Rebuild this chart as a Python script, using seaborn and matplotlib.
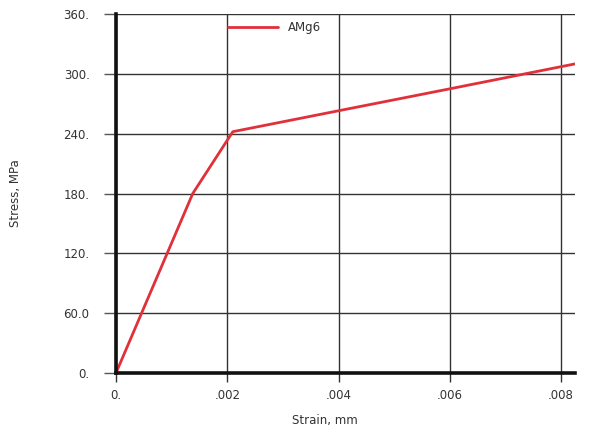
import pandas as pd
import matplotlib.pyplot as plt
import seaborn as sns

# Stress-strain curve for AMg6
strain = [0.0, 0.00138, 0.0021, 0.004, 0.006, 0.00825]
stress = [0.0, 180.0, 242.0, 263.0, 285.0, 310.0]
x_ticks = [0.0, 0.002, 0.004, 0.006, 0.008]
x_tick_labels = ["0.", ".002", ".004", ".006", ".008"]
y_ticks = [0, 60, 120, 180, 240, 300, 360]
y_tick_labels = ["0.", "60.0", "120.", "180.", "240.", "300.", "360."]

df = pd.DataFrame({"Strain": strain, "Stress": stress})

sns.set_style("white")
plt.rcParams['font.family'] = ['DejaVu Sans']

fig = plt.figure(figsize=(6.05, 4.29), dpi=100)
ax = fig.add_axes([0.1917, 0.1305, 0.7587, 0.8368])

sns.lineplot(x="Strain", y="Stress", data=df, sort=False, color="#e0303a",
             linewidth=2.0, label="AMg6", ax=ax)

ax.set_xlim(0, 0.00825)
ax.set_ylim(0, 360)
ax.set_xticks(x_ticks)
ax.set_xticklabels(x_tick_labels)
ax.set_yticks(y_ticks)
ax.set_yticklabels(y_tick_labels)

ax.grid(True, color="#333333", linewidth=1.0)
ax.set_axisbelow(True)
for side in ["top", "right"]:
    ax.spines[side].set_visible(False)
for side in ["left", "bottom"]:
    ax.spines[side].set_color("#111111")
    ax.spines[side].set_linewidth(2.6)

ax.tick_params(axis="y", left=True, direction="out", length=9, width=1,
               color="#555555", pad=10, labelsize=8.5, labelcolor="#333333")
ax.tick_params(axis="x", bottom=True, direction="out", length=6.5, width=1,
               color="#333333", pad=5, labelsize=8.5, labelcolor="#333333")

ax.set_xlabel("Strain, mm", fontsize=8.5, color="#333333")
ax.set_ylabel("Stress, MPa", fontsize=8.5, color="#333333")
ax.xaxis.set_label_coords(0.455, -0.115)
ax.yaxis.set_label_coords(-0.205, 0.5)

ax.legend(loc="upper left", bbox_to_anchor=(0.22, 1.01), frameon=False,
          handlelength=4.3, fontsize=8.5, labelcolor="#333333")

fig.savefig("out.png", dpi=100)
